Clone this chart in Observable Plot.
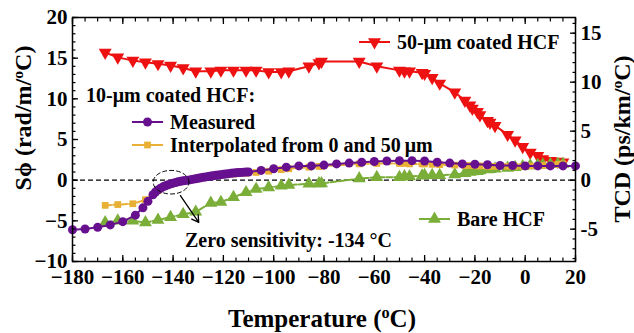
<!DOCTYPE html>
<html><head><meta charset="utf-8">
<script src="https://cdn.jsdelivr.net/npm/d3@7"></script>
<script src="https://cdn.jsdelivr.net/npm/@observablehq/plot@0.6"></script>
<style>body{margin:0;background:#fff}</style>
</head><body><div id="chart"></div>
<script>
// ---- data ----
const sweepT = [-167,-162,-156,-151,-146,-141,-136,-131,-125,-121,-116,-111,-107,-102,-97,-94,-86,-82,-81,-66,-59,-50,-48,-46,-41,-40,-37,-34,-28,-24,-22,-21,-19,-18,-15,-14,-12,-7,-4,-1,2,5,7,10,13,15];
const coated50S = [15.7,15.1,14.7,14.5,14.3,14.1,13.8,13.4,13.4,13.5,13.5,13.5,13.5,13.3,13.3,13.4,14.0,14.4,14.6,14.6,14.0,13.5,13.4,13.4,13.2,13.1,12.6,11.9,10.8,9.8,9.2,8.8,8.4,8.0,7.3,7.1,6.7,5.6,4.9,4.1,3.4,3.0,2.6,2.4,2.3,2.2];
const bareS = [-5.2,-5.0,-5.0,-5.2,-4.9,-4.55,-4.2,-3.9,-2.8,-2.7,-2.1,-1.5,-1.1,-0.9,-0.7,-0.6,-0.45,-0.4,-0.4,0.2,0.35,0.35,0.45,0.45,0.55,0.6,0.6,0.6,0.7,0.85,1.0,1.05,1.1,1.2,1.3,1.35,1.4,1.5,1.6,1.7,1.8,1.85,1.9,1.95,2.0,2.0];
const interpS = [-3.1,-3.0,-2.9,-2.4,-1.3,-0.55,-0.1,0.15,0.45,0.6,0.75,0.85,0.95,1.1,1.3,1.4,1.6,1.7,1.7,2.0,2.05,2.05,2.05,2.0,2.0,2.0,1.95,1.9,1.85,1.8,1.8,1.8,1.75,1.75,1.7,1.7,1.7,1.7,1.7,1.7,1.75,1.75,1.8,1.85,1.95,2.0];
const measuredT = [-180,-175,-170,-165,-160,-155,-152,-150,-148,-147,-146,-145,-144,-143,-142,-141,-140,-139,-138,-137,-136,-135,-134,-133,-132,-131,-130,-129,-128,-127,-126,-125,-124,-123,-122,-121,-120,-119,-118,-117,-116,-115,-114,-113,-112,-111,-110,-105,-100,-95,-90,-85,-80,-75,-70,-65,-60,-55,-50,-45,-40,-35,-30,-25,-20,-15,-10,-5,0,5,10,15,20];
const measuredS = [-6.1,-6.0,-5.8,-5.5,-5.1,-4.3,-3.4,-2.6,-1.8,-1.45,-1.2,-1.0,-0.82,-0.68,-0.56,-0.46,-0.37,-0.29,-0.21,-0.14,-0.08,-0.03,0.0,0.06,0.12,0.18,0.24,0.3,0.35,0.4,0.45,0.5,0.55,0.6,0.64,0.68,0.72,0.76,0.8,0.84,0.87,0.9,0.93,0.95,0.97,0.99,1.0,1.2,1.4,1.6,1.75,1.75,1.85,2.0,2.1,2.2,2.3,2.35,2.4,2.4,2.35,2.2,2.1,2.0,1.95,1.9,1.8,1.8,1.75,1.75,1.75,1.75,1.75];
const xTickLabels = [-180,-160,-140,-120,-100,-80,-60,-40,-20,0,20];
const yTickLabels = [-10,-5,0,5,10,15,20];
const tcdTickLabels = [-5,0,5,10,15];
const tcdTop = 16.6;           // right-axis value at the top of the frame (left = 20)
const zeroT = -134;

// ---- build ----
const FONT = "'Liberation Serif', 'Times New Roman', serif";
const ratio = 20 / tcdTop;
const C = {red:"#ee1111", purple:"#67108f", orange:"#e8b034", green:"#7aae38"};
const rows = (T, S) => T.map((t, i) => ({t, s: S[i]}));
const red = rows(sweepT, coated50S), green = rows(sweepT, bareS), orange = rows(sweepT, interpS), purple = rows(measuredT, measuredS);

const xMinor = d3.range(-180, 21, 5);
const yMinor = d3.range(-10, 21, 1);
const tcdMinor = d3.range(-8, 17, 1).map(v => v * ratio);
const ell = {cx: -140.8, cy: -0.25, rx: 7.1, ry: 1.45};
const ellPts = d3.range(0, 361, 6).map(a => ({t: ell.cx + ell.rx*Math.cos(a*Math.PI/180), s: ell.cy + ell.ry*Math.sin(a*Math.PI/180)}));

const plot = Plot.plot({
  width: 634, height: 333,
  marginLeft: 72, marginRight: 59, marginTop: 17, marginBottom: 72,
  style: {fontFamily: FONT, fontSize: "21px", fontWeight: "bold", background: "white", color: "black"},
  x: {domain: [-180, 20]},
  y: {domain: [-10, 20]},
  marks: [
    Plot.ruleY([0], {stroke: "black", strokeDasharray: "5,3", strokeWidth: 1.2}),
    Plot.line(red, {x: "t", y: "s", stroke: C.red, strokeWidth: 2}),
    Plot.dot(red, {x: "t", y: "s", symbol: "triangle", r: 4.8, fill: C.red, rotate: 180}),
    Plot.line(green, {x: "t", y: "s", stroke: C.green, strokeWidth: 2, strokeDasharray: "6,2"}),
    Plot.dot(green, {x: "t", y: "s", symbol: "triangle", r: 4.8, fill: C.green}),
    Plot.line(orange, {x: "t", y: "s", stroke: C.orange, strokeWidth: 2, strokeDasharray: "6,2"}),
    Plot.dot(orange, {x: "t", y: "s", symbol: "square", r: 3.8, fill: C.orange}),
    Plot.line(purple, {x: "t", y: "s", stroke: C.purple, strokeWidth: 2}),
    Plot.dot(purple, {x: "t", y: "s", r: 4.5, fill: C.purple}),
    Plot.line(ellPts, {x: "t", y: "s", stroke: "black", strokeWidth: 1, strokeDasharray: "4,3"}),
    Plot.arrow([{x1: -137.1, y1: -1.9, x2: -129.8, y2: -5.2}], {x1: "x1", y1: "y1", x2: "x2", y2: "y2", stroke: "black", strokeWidth: 1.3, headLength: 9}),
    // axes: labels
    Plot.axisX({ticks: xTickLabels, tickSize: 0, tickPadding: 8, label: null, fontSize: 21}),
    Plot.axisY({ticks: yTickLabels, tickSize: 0, tickPadding: 5, label: null, fontSize: 21}),
    Plot.axisY({anchor: "right", ticks: tcdTickLabels.map(v => v * ratio), tickFormat: d => String(Math.round(d / ratio)), tickSize: 0, tickPadding: 5, label: null, fontSize: 21}),
    // axes: inward ticks
    Plot.axisX({ticks: xTickLabels, tickSize: -6, tickFormat: () => "", label: null, strokeWidth: 1.3}),
    Plot.axisX({ticks: xMinor, tickSize: -3.5, tickFormat: () => "", label: null, strokeWidth: 1.2}),
    Plot.axisX({anchor: "top", ticks: xTickLabels, tickSize: -6, tickFormat: () => "", label: null, strokeWidth: 1.3}),
    Plot.axisX({anchor: "top", ticks: xMinor, tickSize: -3.5, tickFormat: () => "", label: null, strokeWidth: 1.2}),
    Plot.axisY({ticks: yTickLabels, tickSize: -6, tickFormat: () => "", label: null, strokeWidth: 1.3}),
    Plot.axisY({ticks: yMinor, tickSize: -3.5, tickFormat: () => "", label: null, strokeWidth: 1.2}),
    Plot.axisY({anchor: "right", ticks: tcdTickLabels.map(v => v * ratio), tickSize: -6, tickFormat: () => "", label: null, strokeWidth: 1.3}),
    Plot.axisY({anchor: "right", ticks: tcdMinor, tickSize: -3.5, tickFormat: () => "", label: null, strokeWidth: 1.2}),
    Plot.frame({stroke: "black", strokeWidth: 1.5})
  ]
});
document.getElementById("chart").appendChild(plot);

// ---- overlays: legend, annotations, axis titles ----
const svg = d3.select(plot);
const g = svg.append("g").attr("font-family", FONT).attr("font-weight", "bold").attr("fill", "black").attr("text-anchor", "start");
function entry(x0, y0, color, sym, r, rot, label) {
  g.append("line").attr("x1", x0).attr("x2", x0 + 31).attr("y1", y0).attr("y2", y0).attr("stroke", color).attr("stroke-width", 2);
  g.append("path").attr("d", d3.symbol(sym, r * r * Math.PI)()).attr("fill", color)
    .attr("transform", `translate(${x0 + 15.5},${y0}) rotate(${rot})`);
  g.append("text").attr("x", x0 + 38).attr("y", y0).attr("dy", "0.35em").attr("font-size", 20).attr("text-anchor", "start").text(label);
}
g.append("text").attr("x", 86).attr("y", 95).attr("dy", "0.35em").attr("font-size", 20).attr("text-anchor", "start").text("10-μm coated HCF:");
entry(132, 122, C.purple, d3.symbolCircle, 4.5, 0, "Measured");
entry(132, 145, C.orange, d3.symbolSquare, 3.8, 0, "Interpolated from 0 and 50\u2009μm");
entry(359, 42, C.red, d3.symbolTriangle, 4.8, 180, "50-μm coated HCF");
entry(419, 219, C.green, d3.symbolTriangle, 4.8, 0, "Bare HCF");
g.append("text").attr("x", 185).attr("y", 240).attr("dy", "0.35em").attr("font-size", 20).attr("text-anchor", "start").text(`Zero sensitivity: ${zeroT} °C`);

function sup(t, parts) {
  parts.forEach(([s, isSup]) => {
    const ts = t.append("tspan").text(s);
    if (isSup) ts.attr("font-size", "0.65em").attr("baseline-shift", "super");
  });
}
const tx = g.append("text").attr("x", 322).attr("y", 318).attr("text-anchor", "middle").attr("dy", "0.35em").attr("font-size", 25);
sup(tx, [["Temperature (", false], ["o", true], ["C)", false]]);
const tl = g.append("text").attr("transform", "translate(23,118) rotate(-90)").attr("text-anchor", "middle").attr("dy", "0.35em").attr("font-size", 24);
sup(tl, [["Sϕ (rad/m/", false], ["o", true], ["C)", false]]);
const tr = g.append("text").attr("transform", "translate(622,139) rotate(-90)").attr("text-anchor", "middle").attr("dy", "0.35em").attr("font-size", 24);
sup(tr, [["TCD (ps/km/", false], ["o", true], ["C)", false]]);
</script>
</body></html>
